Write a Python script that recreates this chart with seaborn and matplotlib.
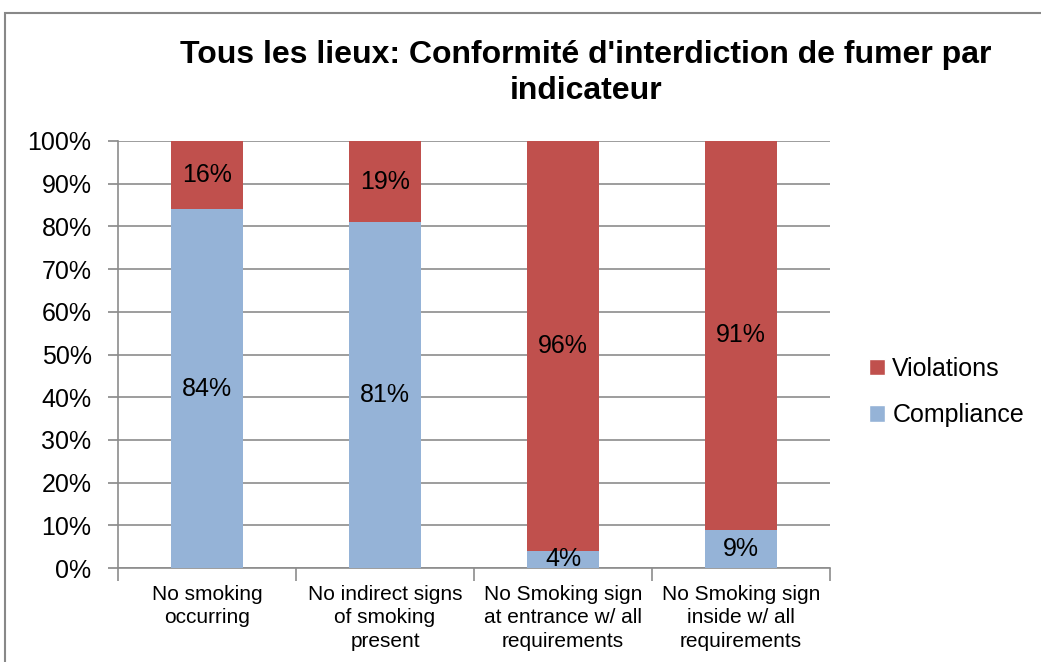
import matplotlib
matplotlib.use("Agg")
import matplotlib.pyplot as plt
import seaborn as sns
import pandas as pd
from matplotlib.patches import Rectangle, Patch
from matplotlib.ticker import MultipleLocator, FuncFormatter

categories = ["No smoking\noccurring", "No indirect signs\nof smoking\npresent",
              "No Smoking sign\nat entrance w/ all\nrequirements", "No Smoking sign\ninside w/ all\nrequirements"]
compliance = [84, 81, 4, 9]
violations = [16, 19, 96, 91]
title = "Tous les lieux: Conformité d'interdiction de fumer par\nindicateur"

sns.set_theme(style="white")
plt.rcParams['font.family'] = ['Liberation Sans', 'DejaVu Sans']
plt.rcParams['text.color'] = 'black'
plt.rcParams['xtick.color'] = 'black'
plt.rcParams['ytick.color'] = 'black'
plt.rcParams['axes.labelcolor'] = 'black'

df = pd.DataFrame({"cat": categories, "Compliance": compliance, "Violations": violations})
df["Total"] = df["Compliance"] + df["Violations"]

fig = plt.figure(figsize=(10.41, 6.62), dpi=100)
ax = fig.add_axes([118/1041, 1 - 568/662, (830-118)/1041, (568-141)/662])

red = "#C0504D"
blue = "#95B3D7"
sns.barplot(data=df, x="cat", y="Total", color=red, width=0.4, ax=ax, saturation=1, zorder=3, linewidth=0)
sns.barplot(data=df, x="cat", y="Compliance", color=blue, width=0.4, ax=ax, saturation=1, zorder=3, linewidth=0)

for i, (c, v) in enumerate(zip(compliance, violations)):
    ax.text(i, c / 2, f"{c}%", ha="center", va="center", fontsize=18, color="black", zorder=5)
    ax.text(i, c + v / 2, f"{v}%", ha="center", va="center", fontsize=18, color="black", zorder=5)

ax.set_ylim(0, 100)
ax.set_xlim(-0.5, 3.5)
ax.yaxis.set_major_locator(MultipleLocator(10))
ax.yaxis.set_major_formatter(FuncFormatter(lambda v, p: f"{int(v)}%"))
ax.grid(axis="y", color="#8C8C8C", linewidth=1.2, zorder=0)
ax.set_axisbelow(True)
ax.set_xlabel("")
ax.set_ylabel("")
for s in ["top", "right"]:
    ax.spines[s].set_visible(False)
for s in ["left", "bottom"]:
    ax.spines[s].set_color("#8C8C8C")
    ax.spines[s].set_linewidth(1.2)

ax.tick_params(axis="y", labelsize=18, left=True, length=7, color="#8C8C8C", pad=12, labelcolor="black")
ax.set_xticks([0, 1, 2, 3])
ax.set_xticklabels(categories, fontsize=15, linespacing=1.3)
ax.tick_params(axis="x", bottom=False, pad=6, labelcolor="black")
# separators between categories
ax.set_xticks([-0.5, 0.5, 1.5, 2.5, 3.5], minor=True)
ax.tick_params(axis="x", which="minor", bottom=True, length=9, color="#8C8C8C", direction="out", width=1.2)

fig.text(586/1041, 1 - 73/662, title, ha="center", va="center", fontsize=23, fontweight="bold",
         linespacing=1.28, color="black")

handles = [Patch(facecolor=red, label="Violations"), Patch(facecolor=blue, label="Compliance")]
fig.legend(handles=handles, loc="center left", bbox_to_anchor=(846/1041, 1 - 392/662), frameon=False,
           fontsize=18, handlelength=0.65, handleheight=0.65, handletextpad=0.3, labelspacing=0.9,
           labelcolor="black")

fig.patches.append(Rectangle((5/1041, -0.1), 1.2, 1 - 13/662 + 0.1, transform=fig.transFigure,
                             fill=False, edgecolor="#888888", linewidth=1.5))

fig.savefig("out.png", dpi=100)
